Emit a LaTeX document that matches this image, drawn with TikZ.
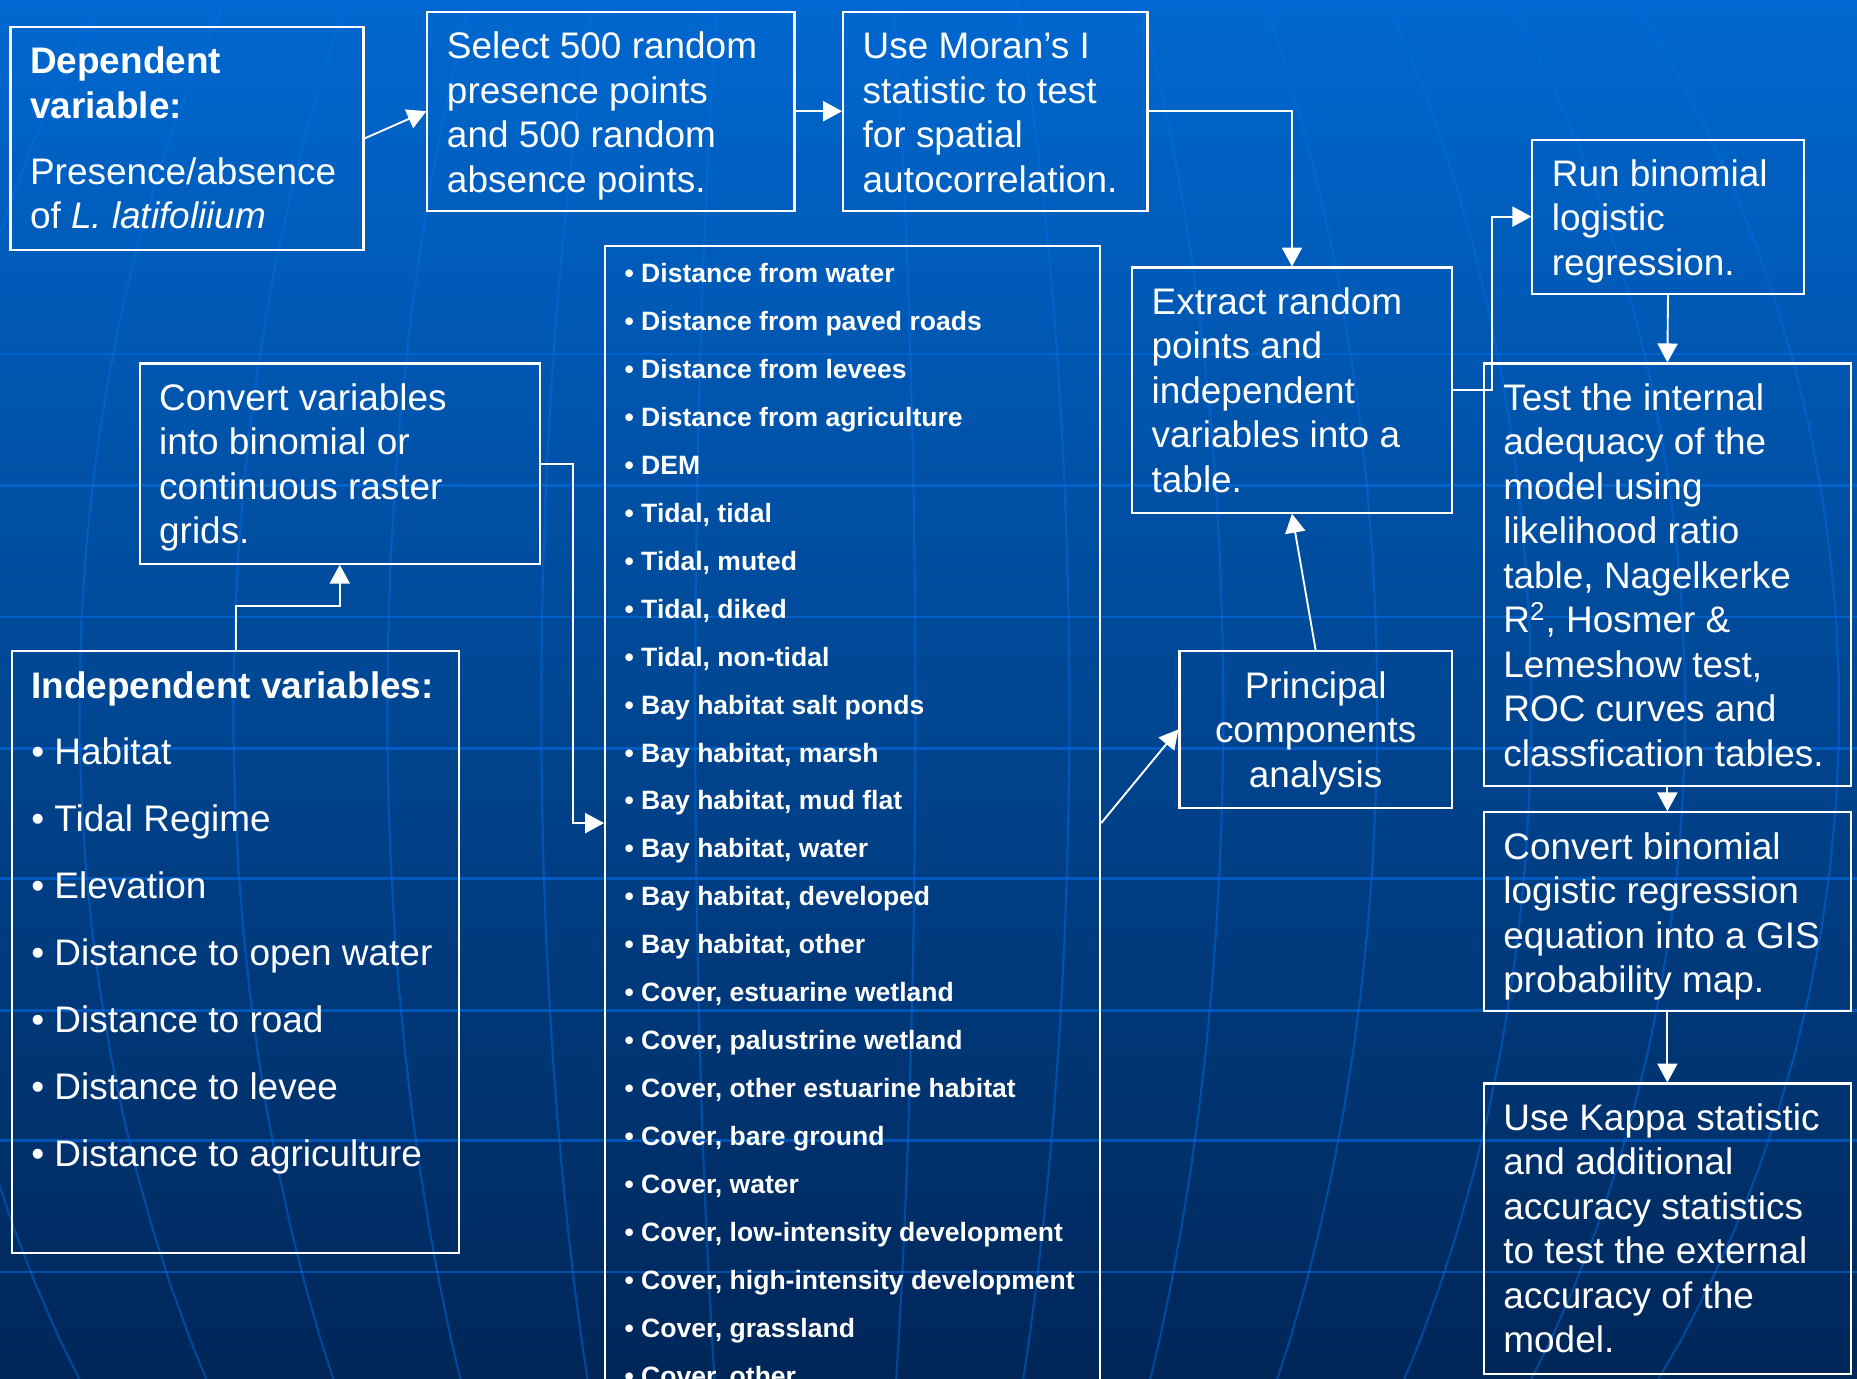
\documentclass[tikz,border=0pt]{standalone}
\usepackage{fontspec}
\setmainfont{Liberation Sans}
\usetikzlibrary{arrows.meta,calc}
\definecolor{bgtop}{RGB}{0,104,208}
\definecolor{bgmid}{RGB}{0,78,166}
\definecolor{bgbot}{RGB}{0,38,88}
\definecolor{gridc}{RGB}{0,112,235}
\newcommand{\fl}{\rule{0pt}{20pt}}
\newcommand{\flb}{\rule{0pt}{15.5pt}}
\tikzset{
  box/.style={draw=white, line width=0.9pt, rectangle, inner sep=0pt, anchor=north west},
  txt/.style={text=white, anchor=north west, inner sep=0pt, align=left,
              font=\fontsize{15.6}{18.8}\selectfont},
  arr/.style={draw=white, line width=0.8pt, -{Triangle[length=8pt,width=8.5pt]}},
  hline/.style={draw=gridc, line width=1.1pt, opacity=0.55},
  mer/.style={draw=gridc, line width=0.9pt, opacity=0.45},
}
\begin{document}
\begin{tikzpicture}[x=0.5pt,y=-0.5pt]
\useasboundingbox (0,0) rectangle (1568,1164);
\clip (0,0) rectangle (1568,1164);
% background
\shade[top color=bgtop, middle color=bgmid, bottom color=bgbot] (0,0) rectangle (1568,1164);
\foreach \yy in {299,410,521,632,742,853,963,1074}
  \draw[hline] (0,\yy) -- (1568,\yy);
\foreach \aa in {93,223,353,483,613,743,873}{
  \draw[mer] plot[domain=-90:90,samples=60] ({680+\aa*cos(\x)},{600+1000*sin(\x)});
  \draw[mer] plot[domain=-90:90,samples=60] ({680-\aa*cos(\x)},{600+1000*sin(\x)});
}
% boxes
\node[box, minimum width=149pt, minimum height=94pt] (dep) at (8,22) {};
\node[box, minimum width=155pt, minimum height=84pt] (sel) at (360,9) {};
\node[box, minimum width=128.5pt, minimum height=84pt] (mor) at (711,9) {};
\node[box, minimum width=135pt, minimum height=103.5pt] (ext) at (955,225) {};
\node[box, minimum width=114.5pt, minimum height=65pt] (run) at (1293,117) {};
\node[box, minimum width=155pt, minimum height=178.5pt] (tst) at (1252,306) {};
\node[box, minimum width=155pt, minimum height=84pt] (cvb) at (1252,685) {};
\node[box, minimum width=155pt, minimum height=122.5pt] (kap) at (1252,914) {};
\node[box, minimum width=115pt, minimum height=66pt] (pca) at (995,549) {};
\node[box, minimum width=169pt, minimum height=84.5pt] (cvt) at (117,306) {};
\node[box, minimum width=189pt, minimum height=254pt] (ind) at (9,549) {};
\node[box, minimum width=209pt, minimum height=500pt] (mid) at (510,207) {};
% texts
\node[txt] (dep-t) at ([xshift=8.5pt]dep.north west)
  {\fl\textbf{Dependent}\\ \textbf{variable:}\\[9pt] Presence/absence\\ of \textit{L. latifoliium}};
\node[txt] (sel-t) at ([xshift=8.5pt]sel.north west)
  {\fl Select 500 random\\ presence points\\ and 500 random\\ absence points.};
\node[txt] (mor-t) at ([xshift=8.5pt]mor.north west)
  {\fl Use Moran’s I\\ statistic to test\\ for spatial\\ autocorrelation.};
\node[txt] (ext-t) at ([xshift=8.5pt]ext.north west)
  {\fl Extract random\\ points and\\ independent\\ variables into a\\ table.};
\node[txt] (run-t) at ([xshift=8.5pt]run.north west)
  {\fl Run binomial\\ logistic\\ regression.};
\node[txt] (tst-t) at ([xshift=8.5pt]tst.north west)
  {\fl Test the internal\\ adequacy of the\\ model using\\ likelihood ratio\\ table, Nagelkerke\\ R\textsuperscript{2}, Hosmer \&\\ Lemeshow test,\\ ROC curves and\\ classfication tables.};
\node[txt] (cvb-t) at ([xshift=8.5pt]cvb.north west)
  {\fl Convert binomial\\ logistic regression\\ equation into a GIS\\ probability map.};
\node[txt] (kap-t) at ([xshift=8.5pt]kap.north west)
  {\fl Use Kappa statistic\\ and additional\\ accuracy statistics\\ to test the external\\ accuracy of the\\ model.};
\node[txt, anchor=north, align=center] (pca-t) at (pca.north)
  {\fl Principal\\ components\\ analysis};
\node[txt] (cvt-t) at ([xshift=8.5pt]cvt.north west)
  {\fl Convert variables\\ into binomial or\\ continuous raster\\ grids.};
\node[txt, font=\fontsize{15.6}{28.25}\selectfont] (ind-t) at ([xshift=8.5pt]ind.north west)
  {\fl\textbf{Independent variables:}\\ • Habitat\\ • Tidal Regime\\ • Elevation\\ • Distance to open water\\ • Distance to road\\ • Distance to levee\\ • Distance to agriculture};
\node[txt, font=\bfseries\fontsize{11.2}{20.25}\selectfont] (mid-t) at ([xshift=8.5pt]mid.north west)
  {\flb • Distance from water\\ • Distance from paved roads\\ • Distance from levees\\ • Distance from agriculture\\ • DEM\\ • Tidal, tidal\\ • Tidal, muted\\ • Tidal, diked\\ • Tidal, non-tidal\\ • Bay habitat salt ponds\\ • Bay habitat, marsh\\ • Bay habitat, mud flat\\ • Bay habitat, water\\ • Bay habitat, developed\\ • Bay habitat, other\\ • Cover, estuarine wetland\\ • Cover, palustrine wetland\\ • Cover, other estuarine habitat\\ • Cover, bare ground\\ • Cover, water\\ • Cover, low-intensity development\\ • Cover, high-intensity development\\ • Cover, grassland\\ • Cover, other};
% connectors
\draw[arr] (dep.east) -- (sel.west);
\draw[arr] (sel.east) -- (mor.west);
\draw[arr] (mor.east) -| (ext.north);
\draw[arr] (ext.east) -- ++(33,0) |- (run.west);
\draw[arr] (run.south) -- (tst.north);
\draw[arr] (tst.south) -- (cvb.north);
\draw[arr] (cvb.south) -- (kap.north);
\draw[arr] (pca.north) -- (ext.south);
\draw[arr] ([yshift=-244pt]mid.north east) -- (pca.west);
\draw[arr] (cvt.east) -- ++(27,0) |- ([yshift=-244pt]mid.north west);
\draw[arr] (ind.north) -- ++(0,-37) -| (cvt.south);
\end{tikzpicture}
\end{document}
